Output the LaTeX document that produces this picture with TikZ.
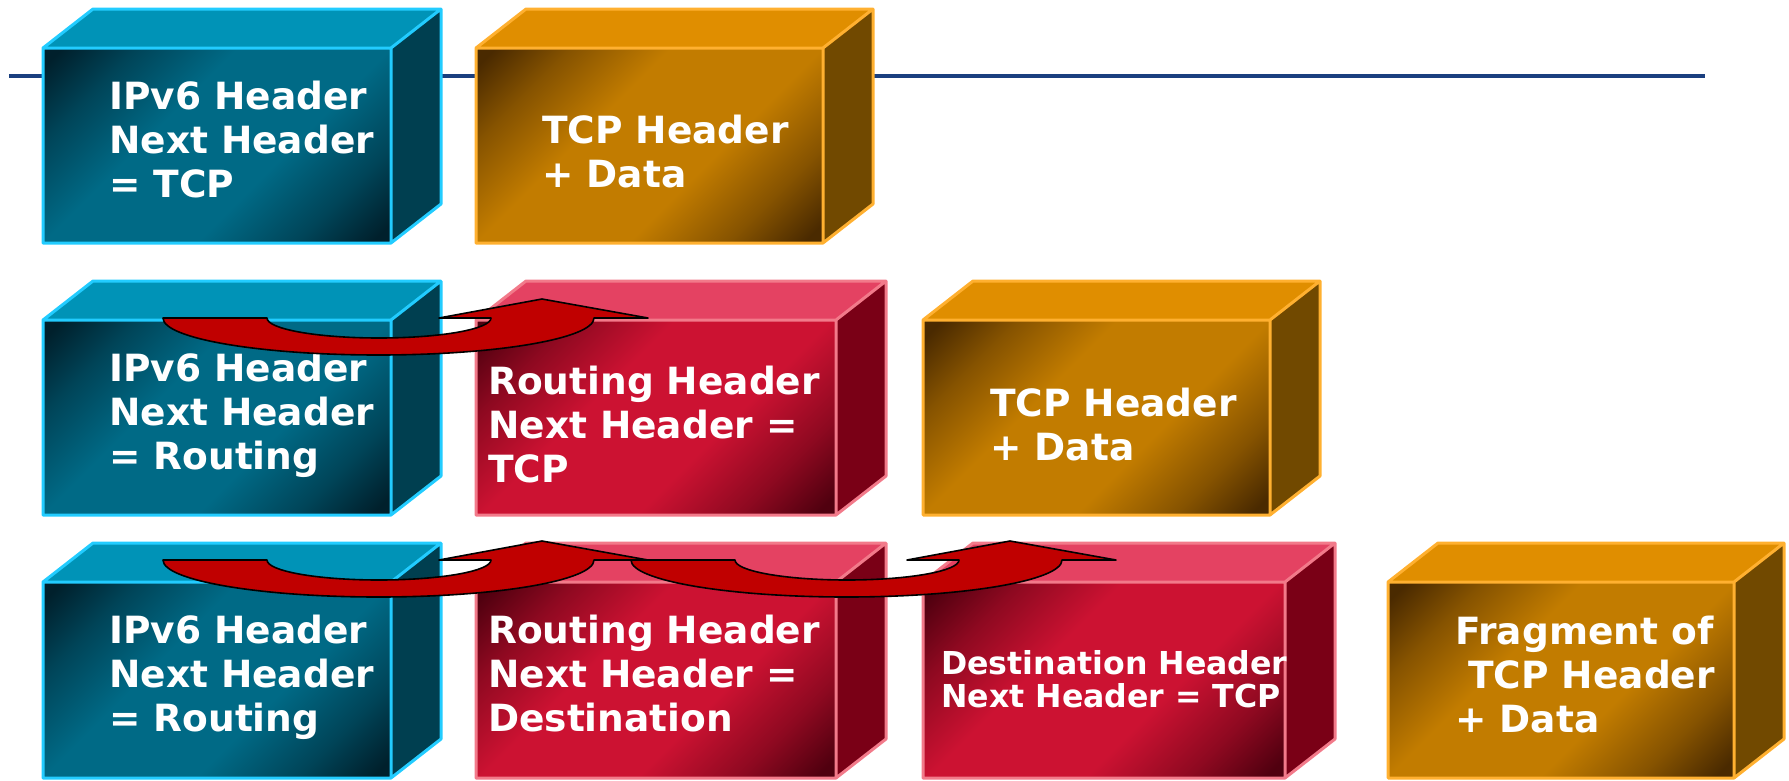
\documentclass[tikz,border=0pt]{standalone}
\usepackage{fontspec}
\setmainfont{DejaVu Sans}
\definecolor{bdark}{HTML}{00202C}
\definecolor{bmid}{HTML}{006A86}
\definecolor{btop}{HTML}{0093B7}
\definecolor{bside}{HTML}{003F50}
\definecolor{bline}{HTML}{22CCFF}
\definecolor{odark}{HTML}{4A2A00}
\definecolor{omid}{HTML}{C27C00}
\definecolor{otop}{HTML}{E08E00}
\definecolor{oside}{HTML}{714900}
\definecolor{oline}{HTML}{FFB030}
\definecolor{rdark}{HTML}{50000F}
\definecolor{rmid}{HTML}{CC1232}
\definecolor{rtop}{HTML}{E44262}
\definecolor{rside}{HTML}{7A0016}
\definecolor{rline}{HTML}{F27A8A}
\definecolor{arrowred}{HTML}{C00000}
\definecolor{rulecol}{HTML}{1A3F7F}
\colorlet{cdark}{bdark}
\colorlet{cmid}{bmid}
\colorlet{chalf}{bdark!50!bmid}
\pgfdeclareverticalshading[cdark,cmid,chalf]{cubeshade}{100bp}{color(0bp)=(cdark); color(17bp)=(cdark); color(27bp)=(chalf); color(40bp)=(cmid); color(60bp)=(cmid); color(73bp)=(chalf); color(83bp)=(cdark); color(100bp)=(cdark)}
\newcommand\cubeshape[5]{%
  \colorlet{cdark}{#5dark}\colorlet{cmid}{#5mid}\colorlet{chalf}{#5dark!50!#5mid}%
  \shade[shading=cubeshade, shading angle=45] (#1,#3) rectangle (#2,#4);
  \fill[#5top] (#1,#3) -- (#1+50,#3-39) -- (#2+50,#3-39) -- (#2,#3) -- cycle;
  \fill[#5side] (#2,#3) -- (#2+50,#3-39) -- (#2+50,#4-39) -- (#2,#4) -- cycle;
  \draw[#5line, line width=3, line join=round] (#1,#4) -- (#1,#3) -- (#1+50,#3-39) -- (#2+50,#3-39) -- (#2+50,#4-39) -- (#2,#4) -- cycle
    (#2,#4) -- (#2,#3) -- (#1,#3) (#2,#3) -- (#2+50,#3-39);
}
\newcommand\uarrow[2]{%
  \draw[arrowshape] (#1,#2) -- ++(104,0) arc[start angle=180, end angle=0, x radius=112, y radius=20]
    -- ++(-52,0) -- ++(103,-19) -- ++(106,19) -- ++(-54,0)
    arc[start angle=0, end angle=180, x radius=215.5, y radius=37] -- cycle;
}
\tikzset{
  lbl/.style={text=white, font=\bfseries\fontsize{37.5}{44}\selectfont, align=left, inner sep=0, anchor=base west},
  smalllbl/.style={lbl, font=\bfseries\fontsize{31.6}{33}\selectfont},
  arrowshape/.style={fill=arrowred, draw=black, line width=1.6, line join=round},
  rulestyle/.style={draw=rulecol, line width=4.5},
}
\begin{document}
\begin{tikzpicture}[x=1pt, y=-1pt]
\useasboundingbox (0,0) rectangle (1789,780);
\coordinate (ruleL) at (9,76);
\coordinate (ruleR) at (1705,76);
\draw[rulestyle] (ruleL) -- (ruleR);
% row 1
\cubeshape{43}{391}{48}{243}{b}
\cubeshape{476}{823}{48}{243}{o}
\node[lbl] (t11) at (109,197) {IPv6 Header\\Next Header\\= TCP};
\node[lbl] (t12) at (542,187) {TCP Header\\+ Data};
% row 2
\cubeshape{43}{391}{320}{515}{b}
\cubeshape{476}{836}{320}{515}{r}
\cubeshape{923}{1270}{320}{515}{o}
\node[lbl] (t21) at (109,469) {IPv6 Header\\Next Header\\= Routing};
\node[lbl] (t22) at (488,482) {Routing Header\\Next Header =\\TCP};
\node[lbl] (t23) at (990,460) {TCP Header\\+ Data};
\uarrow{163}{318}
% row 3
\cubeshape{43}{391}{582}{778}{b}
\cubeshape{476}{836}{582}{778}{r}
\cubeshape{923}{1285}{582}{778}{r}
\cubeshape{1388}{1734}{582}{778}{o}
\node[lbl] (t31) at (109,731) {IPv6 Header\\Next Header\\= Routing};
\node[lbl] (t32) at (488,731) {Routing Header\\Next Header =\\Destination};
\node[smalllbl] (t33) at (941,707) {Destination Header\\Next Header = TCP};
\node[lbl] (t34) at (1455,732) {Fragment of\\~TCP Header\\+ Data};
\uarrow{163}{560}
\uarrow{631}{560}
\end{tikzpicture}
\end{document}
